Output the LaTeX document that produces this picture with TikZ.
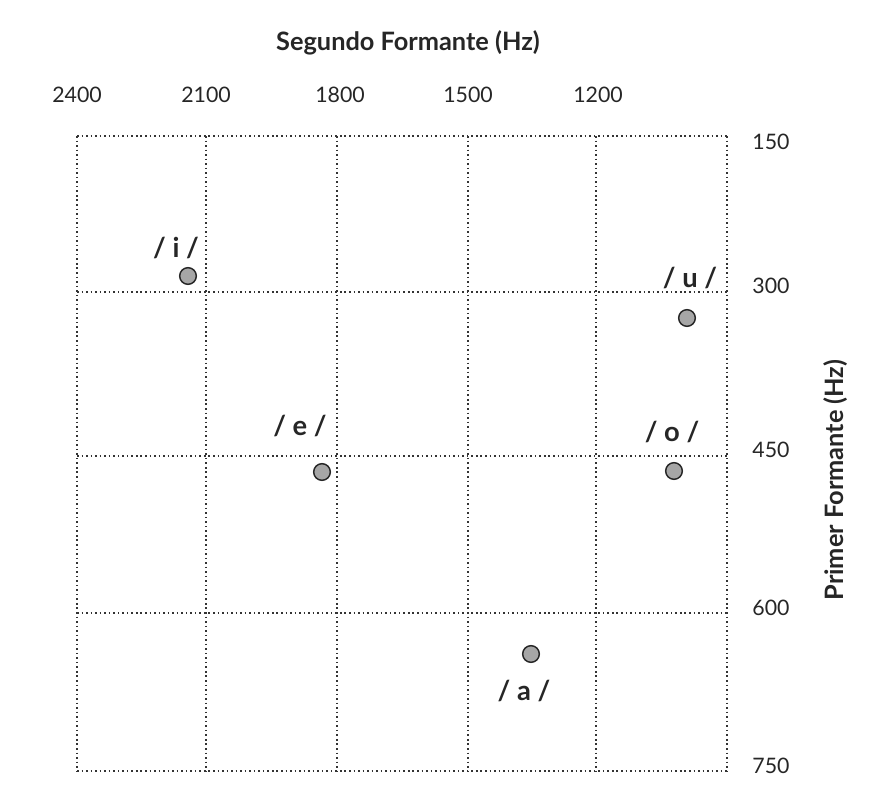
\documentclass[tikz,border=0pt]{standalone}
\usepackage{fontspec}
\setmainfont{Lato}
\begin{document}
\begin{tikzpicture}[x=0.75pt,y=-0.75pt,
 grid/.style={dash pattern=on 1.2pt off 2.2pt,line width=1.3pt,black!80},
 pt/.style={circle,draw=black!85,fill=black!35,line width=1.1pt,minimum size=12.5pt,inner sep=0},
 vow/.style={font=\bfseries\fontsize{20.5}{24}\selectfont,text=black!85},
 tick/.style={font=\fontsize{16}{19}\selectfont,text=black!85}]
\useasboundingbox (0,0) rectangle (881,796);
\foreach \x in {77,206,337,468,596,727} \draw[grid] (\x,136) -- (\x,771);
\foreach \y in {136,292,456,613,771} \draw[grid] (77,\y) -- (727,\y);
\node[font=\bfseries\fontsize{19}{22}\selectfont,text=black!85] (t) at (408,43) {Segundo Formante (Hz)};
\node[tick] (x1) at (77,95) {2400};
\node[tick] (x2) at (206,95) {2100};
\node[tick] (x3) at (340,95) {1800};
\node[tick] (x4) at (468,95) {1500};
\node[tick] (x5) at (598,95) {1200};
\node[tick] (y1) at (771,142) {150};
\node[tick] (y2) at (771,286) {300};
\node[tick] (y3) at (771,450) {450};
\node[tick] (y4) at (771,608) {600};
\node[tick] (y5) at (771,766) {750};
\node[font=\bfseries\fontsize{19}{22}\selectfont,text=black!85,rotate=90] (yt) at (836,480) {Primer Formante (Hz)};
\node[pt] (i) at (188,276) {};
\node[pt] (u) at (687,318) {};
\node[pt] (e) at (322,472) {};
\node[pt] (o) at (674,471) {};
\node[pt] (a) at (531,654) {};
\node[vow] (li) at (176,248) {/ i /};
\node[vow] (lu) at (690,278) {/ u /};
\node[vow] (le) at (300,426) {/ e /};
\node[vow] (lo) at (672,432) {/ o /};
\node[vow] (la) at (524,691) {/ a /};
\end{tikzpicture}
\end{document}
